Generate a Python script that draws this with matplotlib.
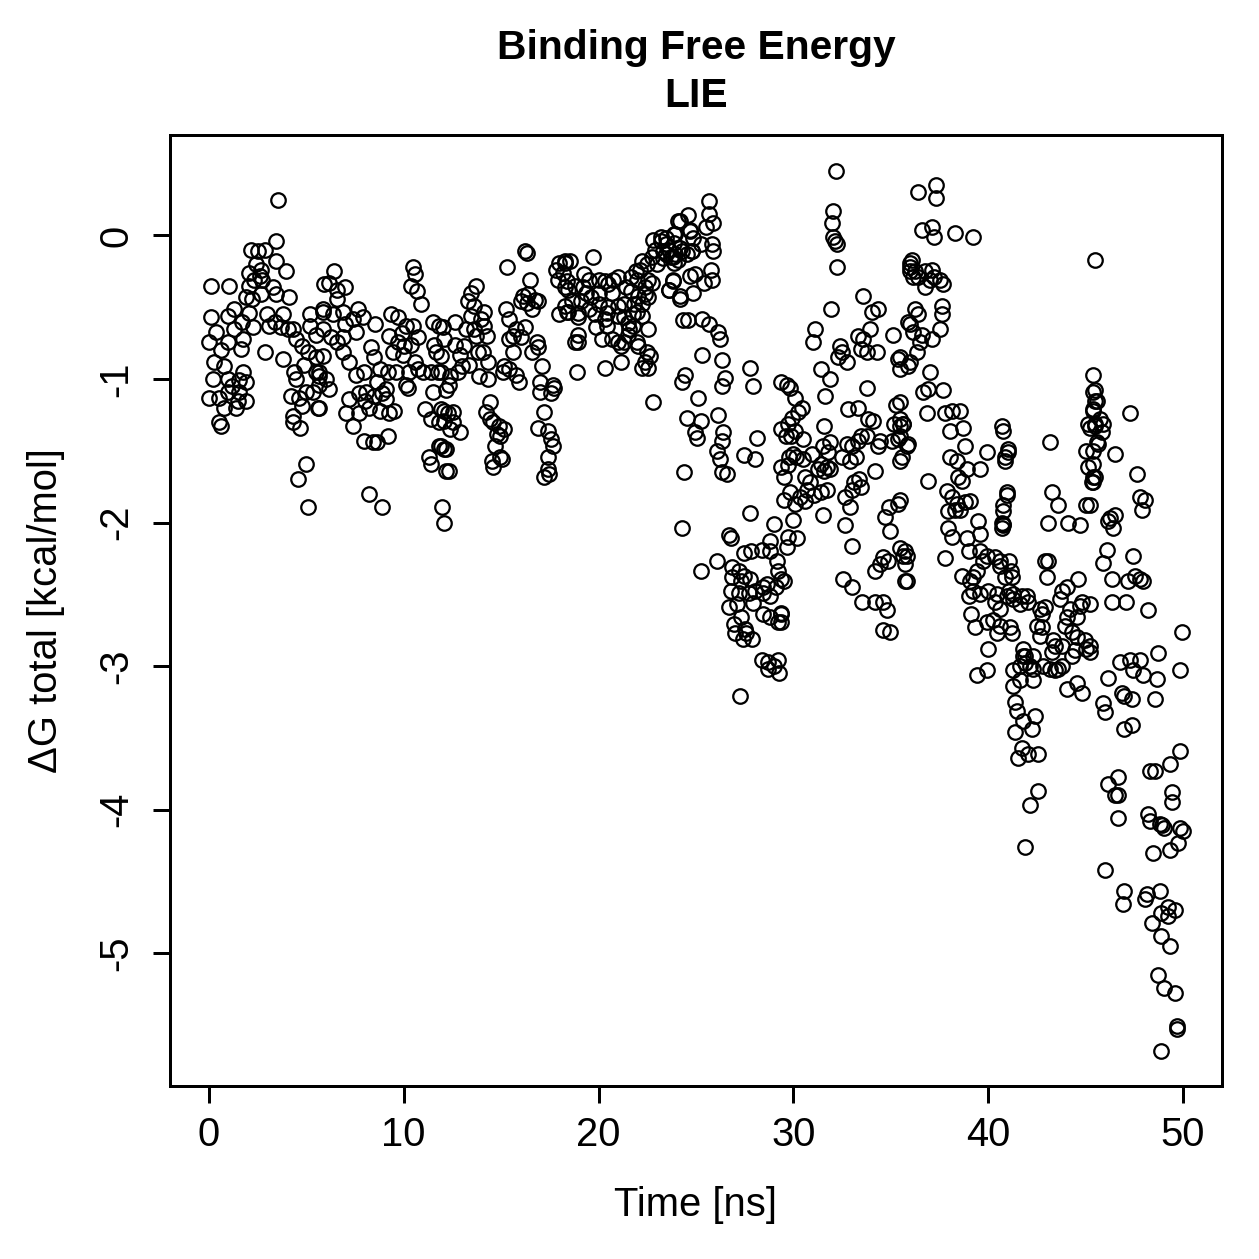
import numpy as np
import matplotlib
matplotlib.use("Agg")
import matplotlib.pyplot as plt

plt.rcParams['font.family'] = ['Liberation Sans', 'DejaVu Sans']
plt.rcParams['axes.unicode_minus'] = False

# values, [time (ns), dG (kcal/mol)], grouped by time window
seg_0_6 = [[3.57,0.25],[3.44,-0.04],[2.15,-0.1],[2.5,-0.11],[2.9,-0.1],[3.44,-0.18],[3.95,-0.25],
 [0.1,-0.35],[1.03,-0.35],[2.05,-0.26],[2.67,-0.24],[2.3,-0.31],[2.75,-0.31],[2.05,-0.35],[3.3,-0.36],
 [2.67,-0.41],[3.44,-0.41],[1.9,-0.43],[4.1,-0.43],[5.9,-0.34],[0.1,-0.57],[1.3,-0.51],[1.0,-0.56],
 [2.05,-0.54],[3.0,-0.55],[3.8,-0.55],[5.2,-0.55],[5.85,-0.53],[1.3,-0.65],[2.25,-0.64],[3.1,-0.63],
 [3.7,-0.64],[4.05,-0.65],[4.3,-0.65],[5.2,-0.63],[5.5,-0.69],[0.35,-0.67],[0.0,-0.74],[1.0,-0.74],
 [1.75,-0.72],[1.65,-0.79],[2.9,-0.81],[3.8,-0.86],[4.45,-0.72],[4.8,-0.77],[5.1,-0.81],[0.25,-0.88],
 [0.75,-0.91],[1.75,-0.95],[4.35,-0.95],[4.45,-1.0],[4.9,-0.9],[5.5,-0.95],[5.65,-0.98],[0.2,-1.0],
 [1.0,-1.0],[1.55,-1.01],[1.9,-1.02],[0.0,-1.13],[0.5,-1.13],[1.0,-1.09],[1.55,-1.09],[1.9,-1.15],
 [1.4,-1.2],[0.75,-1.2],[4.2,-1.12],[4.6,-1.13],[5.0,-1.09],[5.35,-1.09],[4.8,-1.19],[5.6,-1.2],
 [0.5,-1.3],[0.6,-1.33],[4.3,-1.3],[4.3,-1.26],[4.7,-1.34],[5.0,-1.59],[4.55,-1.7],[5.1,-1.89],
 [2.4,-0.2],[2.6,-0.28],[1.7,-0.6],[0.6,-0.8],[1.2,-1.05],[1.5,-1.15],[3.4,-0.6],[2.2,-0.44]]

seg_6_12 = [[6.4,-0.25],[6.15,-0.33],[6.6,-0.38],[7.0,-0.36],[6.6,-0.44],[10.5,-0.22],[10.6,-0.27],
 [10.35,-0.35],[10.7,-0.39],[10.9,-0.48],[5.85,-0.51],[6.35,-0.55],[6.9,-0.53],[7.65,-0.51],[7.9,-0.57],
 [7.4,-0.58],[8.55,-0.62],[9.35,-0.55],[9.7,-0.57],[10.1,-0.63],[10.5,-0.63],[10.75,-0.71],[11.5,-0.6],
 [11.8,-0.63],[5.85,-0.65],[6.25,-0.71],[6.6,-0.74],[6.9,-0.71],[7.55,-0.67],[9.25,-0.70],[9.7,-0.74],
 [10.0,-0.77],[10.35,-0.76],[11.55,-0.76],[11.65,-0.81],[8.3,-0.78],[8.45,-0.85],[9.45,-0.81],
 [9.95,-0.83],[5.5,-0.85],[5.85,-0.84],[6.9,-0.81],[7.2,-0.88],[7.55,-0.97],[7.95,-0.95],[8.8,-0.93],
 [9.2,-0.95],[9.6,-0.95],[10.25,-0.95],[10.75,-0.93],[11.0,-0.95],[11.4,-0.95],[11.75,-0.95],
 [5.65,-0.95],[6.0,-1.0],[5.65,-1.04],[6.15,-1.07],[8.65,-1.02],[9.1,-1.07],[10.1,-1.04],[10.2,-1.06],
 [11.5,-1.09],[12.15,-1.08],[5.65,-1.2],[7.2,-1.14],[7.7,-1.1],[8.05,-1.09],[8.45,-1.12],[8.9,-1.1],
 [9.1,-1.14],[9.5,-1.22],[9.25,-1.24],[8.8,-1.22],[8.2,-1.2],[7.7,-1.24],[7.4,-1.33],[7.05,-1.24],
 [11.1,-1.21],[11.4,-1.28],[11.8,-1.3],[12.05,-1.22],[7.95,-1.43],[8.4,-1.44],[8.65,-1.44],[9.2,-1.40],
 [11.3,-1.54],[11.4,-1.59],[11.8,-1.47],[12.05,-1.49],[12.15,-1.64],[8.2,-1.8],[8.9,-1.89],
 [11.95,-1.89],[12.05,-2.0],[7.0,-0.62],[9.9,-0.68],[10.6,-0.88],[8.0,-1.15]]

seg_12_18 = [[16.25,-0.11],[16.35,-0.12],[15.3,-0.22],[17.95,-0.19],[18.3,-0.18],[17.8,-0.24],
 [18.2,-0.26],[17.9,-0.31],[18.4,-0.32],[18.3,-0.36],[16.5,-0.31],[13.7,-0.35],[13.45,-0.4],
 [13.3,-0.46],[13.6,-0.49],[16.1,-0.42],[16.4,-0.41],[16.75,-0.45],[16.35,-0.47],[16.0,-0.46],
 [16.9,-0.46],[16.6,-0.51],[15.25,-0.51],[18.4,-0.53],[17.95,-0.55],[14.1,-0.53],[13.95,-0.58],
 [13.45,-0.56],[12.65,-0.6],[13.2,-0.65],[13.6,-0.65],[14.1,-0.63],[14.3,-0.7],[13.7,-0.7],[12.0,-0.64],
 [12.05,-0.72],[15.4,-0.58],[15.75,-0.65],[15.6,-0.70],[15.4,-0.72],[16.0,-0.71],[16.25,-0.64],
 [16.85,-0.74],[16.6,-0.81],[16.9,-0.78],[12.65,-0.76],[12.9,-0.83],[13.1,-0.77],[13.8,-0.81],
 [14.05,-0.81],[15.6,-0.81],[11.9,-0.84],[14.35,-0.88],[13.0,-0.91],[12.8,-0.95],[13.35,-0.9],
 [17.1,-0.91],[11.9,-0.95],[12.4,-0.98],[12.3,-1.04],[13.85,-0.98],[14.35,-1.0],[15.15,-0.91],
 [15.4,-0.93],[15.1,-0.95],[15.75,-0.97],[15.9,-1.02],[17.0,-1.02],[17.65,-1.04],[17.7,-1.06],
 [17.55,-1.1],[17.0,-1.09],[14.45,-1.16],[11.9,-1.21],[12.25,-1.24],[12.55,-1.23],[12.05,-1.29],
 [12.55,-1.3],[12.9,-1.37],[12.4,-1.35],[14.2,-1.23],[14.45,-1.28],[14.6,-1.3],[14.9,-1.33],
 [15.15,-1.35],[14.8,-1.38],[14.95,-1.4],[17.2,-1.23],[16.9,-1.34],[17.4,-1.36],[17.55,-1.42],
 [17.65,-1.47],[17.4,-1.54],[11.9,-1.47],[12.15,-1.49],[14.7,-1.47],[14.95,-1.54],[14.55,-1.57],
 [14.6,-1.61],[15.05,-1.56],[17.4,-1.63],[17.2,-1.68],[17.45,-1.66],[12.3,-1.64]]

seg_18_25 = [[24.2,0.1],[24.7,0.04],[24.8,-0.11],[24.3,-0.11],[23.95,0.01],[23.85,-0.05],
 [22.8,-0.03],[23.2,-0.01],[23.45,-0.06],[23.6,-0.1],[23.3,-0.11],[22.9,-0.1],[24.1,-0.17],[23.8,-0.15],
 [22.75,-0.15],[22.5,-0.2],[22.25,-0.18],[22.15,-0.24],[19.7,-0.15],[19.25,-0.27],[19.5,-0.31],
 [18.55,-0.18],[18.3,-0.19],[21.9,-0.25],[21.65,-0.29],[22.0,-0.31],[22.55,-0.31],[22.75,-0.33],
 [22.4,-0.36],[20.0,-0.31],[20.35,-0.32],[20.75,-0.31],[21.0,-0.29],[20.5,-0.34],[23.8,-0.31],
 [23.6,-0.38],[24.2,-0.42],[24.7,-0.28],[24.85,-0.4],[18.8,-0.35],[19.35,-0.4],[19.6,-0.43],[20.0,-0.4],
 [18.65,-0.46],[19.1,-0.46],[18.45,-0.38],[21.65,-0.39],[22.05,-0.42],[22.4,-0.41],[22.55,-0.43],
 [21.8,-0.48],[22.25,-0.48],[20.0,-0.48],[20.5,-0.50],[21.0,-0.49],[21.3,-0.48],[20.45,-0.54],
 [18.3,-0.49],[18.45,-0.53],[18.95,-0.54],[18.95,-0.57],[19.5,-0.51],[22.0,-0.53],[21.75,-0.55],
 [22.25,-0.56],[21.3,-0.57],[21.0,-0.56],[21.5,-0.61],[21.75,-0.63],[20.35,-0.58],[19.85,-0.64],
 [20.45,-0.63],[20.2,-0.72],[18.95,-0.69],[18.95,-0.74],[18.8,-0.74],[21.55,-0.65],[22.55,-0.65],
 [21.5,-0.69],[20.7,-0.72],[21.0,-0.74],[21.3,-0.74],[21.15,-0.77],[22.0,-0.74],[22.05,-0.77],
 [22.5,-0.81],[22.65,-0.84],[22.4,-0.88],[22.25,-0.92],[22.55,-0.92],[18.9,-0.95],[20.35,-0.92],
 [21.15,-0.88],[22.8,-1.16],[19.2,-0.36],[20.7,-0.4],[21.4,-0.36],[19.8,-0.55],[23.0,-0.2]]

seg_23_30 = [[25.65,0.24],[24.6,0.14],[25.65,0.15],[25.9,0.09],[25.5,0.06],[24.7,0.03],[24.85,-0.02],
 [24.1,0.1],[23.85,0.01],[23.45,-0.02],[23.2,-0.04],[25.25,-0.06],[25.85,-0.06],[25.9,-0.11],
 [24.8,-0.11],[24.55,-0.13],[24.2,-0.09],[23.95,-0.13],[23.7,-0.15],[23.45,-0.13],[23.3,-0.16],
 [23.85,-0.19],[24.95,-0.27],[25.4,-0.33],[25.75,-0.24],[25.85,-0.31],[23.8,-0.32],[23.6,-0.38],
 [24.2,-0.44],[24.35,-0.59],[24.6,-0.59],[25.3,-0.58],[25.65,-0.62],[26.15,-0.67],[26.25,-0.72],
 [25.3,-0.83],[26.35,-0.87],[27.8,-0.92],[27.95,-1.05],[24.45,-0.97],[24.3,-1.02],[26.5,-0.99],
 [26.35,-1.05],[25.1,-1.13],[24.55,-1.27],[25.25,-1.29],[26.15,-1.25],[29.7,-1.04],[24.95,-1.37],
 [25.05,-1.41],[26.4,-1.37],[26.35,-1.43],[26.1,-1.5],[26.25,-1.56],[28.15,-1.41],[27.45,-1.53],
 [28.05,-1.56],[29.75,-1.31],[29.9,-1.4],[29.8,-1.54],[30.15,-1.54],[24.4,-1.65],[26.6,-1.66],
 [26.35,-1.65],[29.75,-1.6],[27.8,-1.93],[29.0,-2.01],[24.3,-2.04],[26.7,-2.09],[26.8,-2.11],
 [26.1,-2.27],[25.25,-2.34],[27.45,-2.21],[27.85,-2.2],[28.4,-2.19],[28.8,-2.13],[28.8,-2.2],
 [26.85,-2.31],[27.2,-2.34],[27.45,-2.37],[27.8,-2.39],[26.85,-2.38],[27.3,-2.41],[29.15,-2.27],
 [29.2,-2.34],[29.35,-2.39],[29.1,-2.45],[28.45,-2.45],[28.65,-2.43],[26.8,-2.48],[27.2,-2.49],
 [27.7,-2.49],[28.05,-2.48],[28.45,-2.49],[28.8,-2.51],[26.7,-2.59],[27.1,-2.57],[27.95,-2.56],
 [28.45,-2.64],[28.8,-2.66],[29.35,-2.64],[29.2,-2.69],[27.3,-2.66],[26.95,-2.71],[27.5,-2.74],
 [27.0,-2.77],[27.55,-2.77],[27.9,-2.81],[27.4,-2.81],[28.4,-2.96],[28.7,-2.97],[29.2,-2.96],
 [29.0,-3.0],[29.25,-3.05],[28.7,-3.02],[27.25,-3.21]]

seg_29_35 = [[32.2,0.45],[32.05,0.17],[32.0,0.09],[32.05,-0.01],[32.15,-0.04],[32.25,-0.06],
 [32.25,-0.22],[36.0,-0.19],[36.0,-0.25],[33.6,-0.42],[31.95,-0.51],[34.05,-0.53],[34.35,-0.51],
 [31.1,-0.65],[31.0,-0.74],[33.3,-0.70],[33.6,-0.72],[33.95,-0.65],[33.45,-0.79],[33.8,-0.81],
 [34.3,-0.81],[32.4,-0.77],[32.5,-0.81],[32.3,-0.85],[32.75,-0.88],[35.1,-0.69],[36.0,-0.62],
 [31.4,-0.93],[31.9,-1.0],[31.65,-1.12],[35.35,-0.86],[35.5,-0.93],[35.9,-0.91],[33.8,-1.06],
 [29.35,-1.02],[29.85,-1.06],[30.1,-1.13],[30.45,-1.2],[30.25,-1.23],[29.95,-1.27],[32.8,-1.21],
 [33.3,-1.2],[35.25,-1.18],[33.85,-1.28],[34.1,-1.29],[35.15,-1.31],[35.5,-1.33],[35.65,-1.31],
 [31.55,-1.33],[29.35,-1.35],[29.6,-1.4],[30.1,-1.36],[30.5,-1.42],[33.45,-1.4],[33.8,-1.4],
 [33.3,-1.43],[34.45,-1.43],[34.35,-1.47],[35.05,-1.43],[35.35,-1.42],[35.85,-1.47],[35.5,-1.57],
 [31.9,-1.44],[31.5,-1.47],[31.8,-1.51],[32.75,-1.45],[33.0,-1.47],[32.5,-1.54],[32.9,-1.57],
 [33.2,-1.54],[30.0,-1.52],[30.5,-1.56],[30.95,-1.52],[31.4,-1.59],[31.75,-1.61],[31.9,-1.63],
 [31.55,-1.64],[31.25,-1.63],[34.2,-1.64],[29.35,-1.61],[29.5,-1.68],[30.6,-1.68],[30.85,-1.72],
 [30.7,-1.77],[31.05,-1.81],[31.4,-1.79],[31.75,-1.77],[30.35,-1.82],[29.85,-1.79],[29.5,-1.84],
 [30.1,-1.87],[30.6,-1.85],[33.1,-1.72],[33.35,-1.7],[33.45,-1.75],[33.0,-1.77],[32.65,-1.82],
 [32.9,-1.89],[32.65,-2.02],[33.0,-2.16],[31.5,-1.95],[30.0,-1.98],[34.9,-1.89],[35.4,-1.87],
 [34.7,-1.96],[34.95,-2.06],[29.75,-2.1],[30.2,-2.11],[29.7,-2.17],[34.6,-2.24],[34.85,-2.27],
 [34.45,-2.29],[34.2,-2.34],[35.65,-2.23],[35.75,-2.29],[35.75,-2.41],[32.55,-2.39],[33.0,-2.45],
 [33.55,-2.55],[34.2,-2.55],[34.6,-2.55],[34.8,-2.61],[34.6,-2.75],[34.95,-2.76],[29.5,-2.41],
 [29.35,-2.63],[29.35,-2.69]]

seg_35_41 = [[36.4,0.3],[37.3,0.35],[37.3,0.26],[36.6,0.04],[37.1,0.06],[37.2,-0.01],[38.3,0.02],
 [39.25,-0.01],[36.1,-0.17],[36.0,-0.22],[36.25,-0.25],[36.4,-0.29],[36.75,-0.25],[37.1,-0.24],
 [37.2,-0.29],[37.55,-0.31],[37.7,-0.34],[36.75,-0.36],[37.0,-0.31],[36.15,-0.29],[36.25,-0.51],
 [36.4,-0.55],[35.9,-0.6],[36.15,-0.67],[36.6,-0.69],[36.5,-0.74],[37.1,-0.72],[36.35,-0.81],
 [37.65,-0.49],[37.65,-0.55],[37.55,-0.65],[35.5,-0.85],[36.0,-0.88],[37.0,-0.95],[36.65,-1.09],
 [36.9,-1.07],[37.7,-1.08],[36.85,-1.24],[37.8,-1.24],[38.15,-1.22],[38.55,-1.22],[38.05,-1.36],
 [38.7,-1.34],[38.8,-1.47],[40.7,-1.33],[35.5,-1.16],[35.5,-1.28],[35.65,-1.31],[35.5,-1.4],
 [35.9,-1.45],[35.6,-1.54],[39.95,-1.51],[39.6,-1.63],[41.0,-1.49],[40.85,-1.54],[38.05,-1.54],
 [38.4,-1.57],[38.9,-1.63],[38.45,-1.68],[38.65,-1.71],[36.9,-1.71],[35.5,-1.84],[37.9,-1.78],
 [38.15,-1.82],[38.4,-1.87],[38.8,-1.86],[39.05,-1.85],[38.55,-1.91],[37.95,-1.92],[38.3,-1.91],
 [40.95,-1.79],[40.75,-1.92],[40.7,-2.0],[40.75,-2.01],[39.5,-1.99],[39.6,-2.08],[38.9,-2.11],
 [37.95,-2.04],[38.15,-2.1],[35.5,-2.18],[35.75,-2.2],[35.85,-2.23],[37.8,-2.25],[35.85,-2.41],
 [39.0,-2.2],[39.6,-2.2],[39.95,-2.23],[40.35,-2.24],[40.6,-2.27],[41.05,-2.27],[41.15,-2.34],
 [39.75,-2.27],[39.45,-2.34],[39.25,-2.38],[38.65,-2.37],[39.05,-2.41],[39.25,-2.48],[39.0,-2.51],
 [39.6,-2.5],[40.0,-2.48],[40.45,-2.5],[40.35,-2.55],[41.05,-2.48],[41.3,-2.5],[41.75,-2.51],
 [42.0,-2.51],[39.1,-2.64],[39.35,-2.73],[39.95,-2.69],[40.25,-2.68],[40.45,-2.77],[41.1,-2.73],
 [40.0,-2.88],[39.45,-3.06],[39.95,-3.03],[41.8,-2.88],[41.9,-2.93],[41.65,-3.0],[41.3,-3.03]]

seg_40_45 = [[40.75,-1.36],[43.2,-1.44],[41.0,-1.51],[40.85,-1.57],[45.4,-1.09],[45.5,-1.15],
 [45.4,-1.21],[45.15,-1.31],[45.5,-1.33],[45.6,-1.44],[45.05,-1.5],[45.15,-1.61],[45.4,-1.68],
 [45.35,-1.72],[40.95,-1.81],[40.75,-1.88],[40.75,-2.02],[40.7,-2.04],[43.3,-1.79],[43.6,-1.88],
 [43.1,-2.0],[44.1,-2.0],[44.7,-2.02],[45.05,-1.88],[42.9,-2.27],[43.1,-2.27],[43.0,-2.38],
 [40.6,-2.3],[40.85,-2.38],[41.25,-2.38],[44.6,-2.39],[44.05,-2.45],[43.8,-2.48],[43.7,-2.53],
 [44.8,-2.55],[44.7,-2.58],[44.2,-2.6],[44.05,-2.66],[44.55,-2.66],[40.95,-2.51],[41.3,-2.53],
 [41.65,-2.57],[42.05,-2.55],[42.65,-2.6],[42.9,-2.59],[42.75,-2.64],[40.6,-2.6],[40.6,-2.72],
 [41.25,-2.77],[42.5,-2.72],[42.75,-2.73],[42.65,-2.79],[43.95,-2.72],[44.3,-2.76],[44.55,-2.8],
 [44.95,-2.82],[45.05,-2.88],[44.45,-2.89],[44.3,-2.93],[43.35,-2.82],[43.45,-2.86],[43.8,-2.86],
 [43.3,-2.9],[43.6,-3.02],[43.2,-3.02],[43.45,-3.03],[43.8,-3.0],[42.8,-3.0],[41.8,-2.93],
 [42.3,-2.93],[41.9,-2.98],[42.15,-3.0],[42.3,-3.02],[42.3,-3.1],[41.65,-3.1],[41.3,-3.14],
 [44.05,-3.16],[44.55,-3.12],[44.8,-3.19],[41.4,-3.25],[41.5,-3.31],[41.8,-3.38],[42.4,-3.35],
 [42.25,-3.44],[41.4,-3.46],[41.75,-3.57],[42.05,-3.61],[42.55,-3.61],[41.55,-3.64],[42.55,-3.87],
 [42.15,-3.97],[41.9,-4.26]]

seg_45_50 = [[45.5,-0.17],[45.4,-0.97],[45.5,-1.08],[45.6,-1.15],[45.4,-1.22],[45.75,-1.28],
 [45.9,-1.31],[45.5,-1.31],[45.25,-1.34],[45.85,-1.37],[45.65,-1.45],[45.4,-1.5],[47.3,-1.24],
 [46.5,-1.52],[45.4,-1.59],[45.5,-1.68],[45.4,-1.72],[45.25,-1.88],[47.65,-1.66],[47.8,-1.82],
 [48.05,-1.84],[47.9,-1.91],[46.25,-1.97],[46.5,-1.95],[46.4,-2.04],[46.15,-1.99],[46.1,-2.19],
 [45.9,-2.28],[47.45,-2.23],[46.35,-2.39],[47.2,-2.41],[47.55,-2.37],[47.8,-2.39],[47.95,-2.41],
 [46.35,-2.55],[47.1,-2.55],[48.2,-2.61],[45.25,-2.57],[49.95,-2.76],[45.25,-2.86],[45.25,-2.9],
 [46.75,-2.97],[47.3,-2.96],[47.8,-2.96],[47.45,-3.03],[47.95,-3.06],[48.7,-2.91],[48.65,-3.09],
 [46.15,-3.08],[46.85,-3.19],[47.0,-3.21],[47.4,-3.23],[48.55,-3.23],[49.85,-3.03],[45.9,-3.26],
 [46.0,-3.32],[47.0,-3.44],[47.4,-3.41],[49.85,-3.59],[49.35,-3.68],[46.15,-3.82],[46.65,-3.77],
 [48.3,-3.73],[48.55,-3.73],[46.5,-3.9],[46.65,-3.9],[46.65,-4.06],[49.45,-3.88],[49.45,-3.95],
 [48.2,-4.03],[48.3,-4.08],[48.8,-4.1],[48.95,-4.11],[49.05,-4.13],[49.85,-4.13],[49.75,-4.23],
 [49.35,-4.28],[48.45,-4.3],[50.0,-4.15],[46.0,-4.42],[47.0,-4.57],[46.9,-4.66],[48.15,-4.59],
 [48.05,-4.62],[48.8,-4.57],[49.25,-4.68],[49.6,-4.7],[49.25,-4.74],[48.9,-4.72],[48.4,-4.79],
 [48.9,-4.88],[49.35,-4.95],[48.7,-5.15],[49.05,-5.24],[49.6,-5.28],[49.7,-5.51],[49.7,-5.53],
 [48.9,-5.68]]

segments = [seg_0_6, seg_6_12, seg_12_18, seg_18_25, seg_23_30,
            seg_29_35, seg_35_41, seg_40_45, seg_45_50]
data = np.array([p for s in segments for p in s])
time = data[:, 0]
dg = data[:, 1]

fig = plt.figure(figsize=(1259/180, 1259/180), dpi=180)
ax = fig.add_axes([0.135, 0.1374, 0.8355, 0.7554])

ax.plot(time, dg, linestyle='none', marker='o', markersize=5.8,
        markerfacecolor='none', markeredgecolor='black', markeredgewidth=0.9)

ax.set_xlim(-2, 52)
ax.set_ylim(-5.925, 0.70)
ax.set_xticks([0, 10, 20, 30, 40, 50])
ax.set_yticks([0, -1, -2, -3, -4, -5])
ax.set_yticklabels(['0', '-1', '-2', '-3', '-4', '-5'], rotation=90, va='center')

for sp in ax.spines.values():
    sp.set_linewidth(1.2)
ax.tick_params(axis='both', direction='out', length=6.8, width=1.2, labelsize=16)
ax.tick_params(axis='x', pad=5)
ax.tick_params(axis='y', pad=7)

ax.set_xlabel('Time [ns]', fontsize=16, labelpad=13)
ax.set_ylabel('\u0394G total [kcal/mol]', fontsize=16, labelpad=13)
ax.set_title('Binding Free Energy\nLIE', fontsize=16.3, fontweight='bold', pad=11, linespacing=1.35)

plt.savefig('out.png', dpi=180)
